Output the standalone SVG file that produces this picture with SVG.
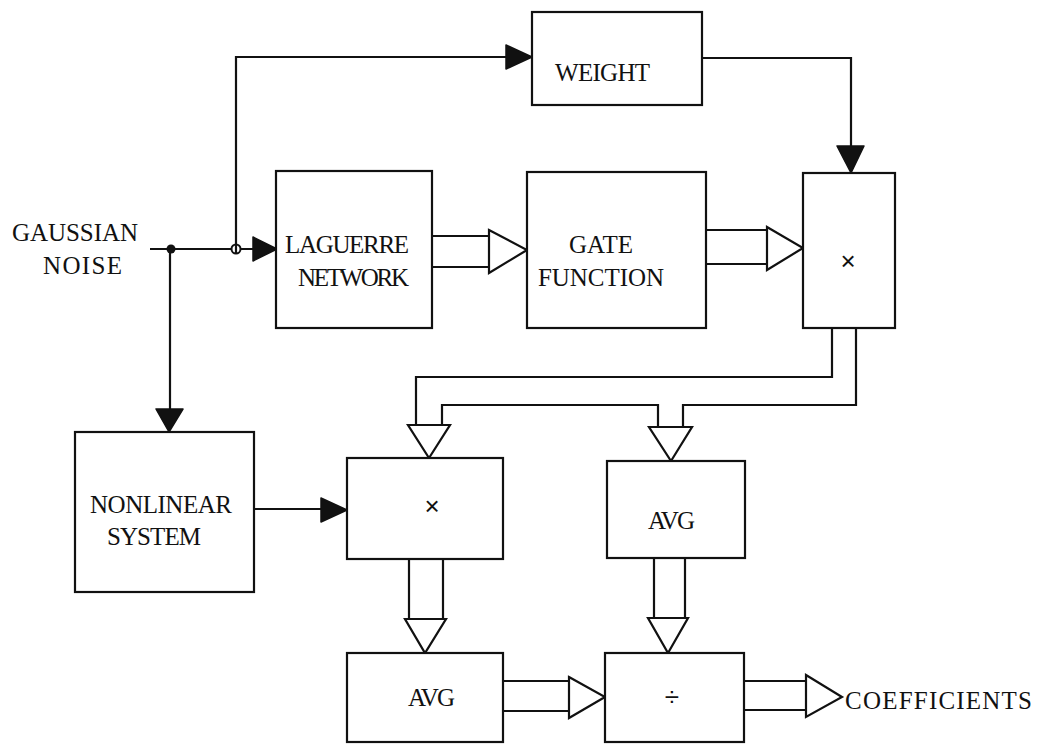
<svg xmlns="http://www.w3.org/2000/svg" width="1040" height="745" viewBox="0 0 1040 745">
<style>
.box{fill:#fff;stroke:#111;stroke-width:2.2}
.ln{fill:none;stroke:#111;stroke-width:2.2;stroke-linejoin:miter}
.fa{fill:#111;stroke:#111;stroke-width:1.5;stroke-linejoin:round}
.ha{fill:#fff;stroke:#111;stroke-width:2.2;stroke-linejoin:miter}
.t{font-family:"Liberation Serif","Times New Roman",serif;font-size:25px;fill:#111}
.s{font-family:"Liberation Sans",Arial,sans-serif;font-size:26px;fill:#111;text-anchor:middle}
</style>
<rect width="1040" height="745" fill="#fff"/>
<g id="connectors">
<path class="ln" d="M150,249 H254"/>
<path class="ln" d="M236,249 V57 H507"/>
<path class="ln" d="M702,58 H851 V147"/>
<path class="ln" d="M170,249 V410"/>
<path class="ln" d="M254,509 H322"/>
<path class="ln" d="M432,236 H489 M432,267 H489"/>
<path class="ln" d="M706,230 H767 M706,264 H767"/>
<path class="ln" d="M832,328 V377 H416 V425"/>
<path class="ln" d="M856,328 V405 H683 V427"/>
<path class="ln" d="M658,427 V405 H442 V425"/>
<path class="ln" d="M409,559 V619 M443,559 V619"/>
<path class="ln" d="M654,558 V618 M685,558 V618"/>
<path class="ln" d="M503,681 H569 M503,711 H569"/>
<path class="ln" d="M744,681 H806 M744,710 H806"/>
<polygon class="fa" points="253,237 277,249 253,261"/>
<polygon class="fa" points="506,45 532,57 506,69"/>
<polygon class="fa" points="837,146 864,146 851,173"/>
<polygon class="fa" points="156,409 183,409 169,432"/>
<polygon class="fa" points="321,498 347,510 321,522"/>
<polygon class="ha" points="489,230 527,250 489,273"/>
<polygon class="ha" points="767,227 803,248 767,270"/>
<polygon class="ha" points="408,425 450,425 429,458"/>
<polygon class="ha" points="649,427 692,427 671,461"/>
<polygon class="ha" points="405,619 446,619 425,653"/>
<polygon class="ha" points="648,618 688,618 668,653"/>
<polygon class="ha" points="569,677 605,697 569,718"/>
<polygon class="ha" points="806,675 842,697 806,717"/>
<circle cx="171" cy="249" r="4.5" fill="#111"/>
<circle cx="236" cy="249" r="4.5" fill="#fff" stroke="#111" stroke-width="2"/>
<path class="ln" d="M236,244 V254"/>
</g>
<g id="input-label">
<text class="t" x="12" y="241" textLength="126" lengthAdjust="spacing">GAUSSIAN</text>
<text class="t" x="43" y="274" textLength="79" lengthAdjust="spacing">NOISE</text>
</g>
<g id="weight">
<rect class="box" x="532" y="12" width="170" height="93"/>
<text class="t" x="555" y="81" textLength="95" lengthAdjust="spacing">WEIGHT</text>
</g>
<g id="laguerre">
<rect class="box" x="276" y="171" width="156" height="157"/>
<text class="t" x="285" y="253" textLength="124" lengthAdjust="spacing">LAGUERRE</text>
<text class="t" x="298" y="286" textLength="111" lengthAdjust="spacing">NETWORK</text>
</g>
<g id="gate">
<rect class="box" x="527" y="172" width="179" height="156"/>
<text class="t" x="569" y="253" textLength="64" lengthAdjust="spacing">GATE</text>
<text class="t" x="538" y="286" textLength="126" lengthAdjust="spacing">FUNCTION</text>
</g>
<g id="mult1">
<rect class="box" x="803" y="173" width="92" height="155"/>
<text class="s" x="848" y="270">×</text>
</g>
<g id="nonlinear">
<rect class="box" x="75" y="432" width="179" height="160"/>
<text class="t" x="90" y="513" textLength="142" lengthAdjust="spacing">NONLINEAR</text>
<text class="t" x="107" y="545" textLength="94" lengthAdjust="spacing">SYSTEM</text>
</g>
<g id="mult2">
<rect class="box" x="347" y="458" width="156" height="101"/>
<text class="s" x="432" y="515">×</text>
</g>
<g id="avg1">
<rect class="box" x="607" y="461" width="138" height="97"/>
<text class="t" x="648" y="529" textLength="47" lengthAdjust="spacing">AVG</text>
</g>
<g id="avg2">
<rect class="box" x="347" y="653" width="156" height="89"/>
<text class="t" x="408" y="706" textLength="47" lengthAdjust="spacing">AVG</text>
</g>
<g id="divide">
<rect class="box" x="605" y="653" width="139" height="89"/>
<text class="s" x="672" y="706">÷</text>
</g>
<g id="output-label">
<text class="t" x="845" y="709" textLength="187" lengthAdjust="spacing">COEFFICIENTS</text>
</g>
</svg>
